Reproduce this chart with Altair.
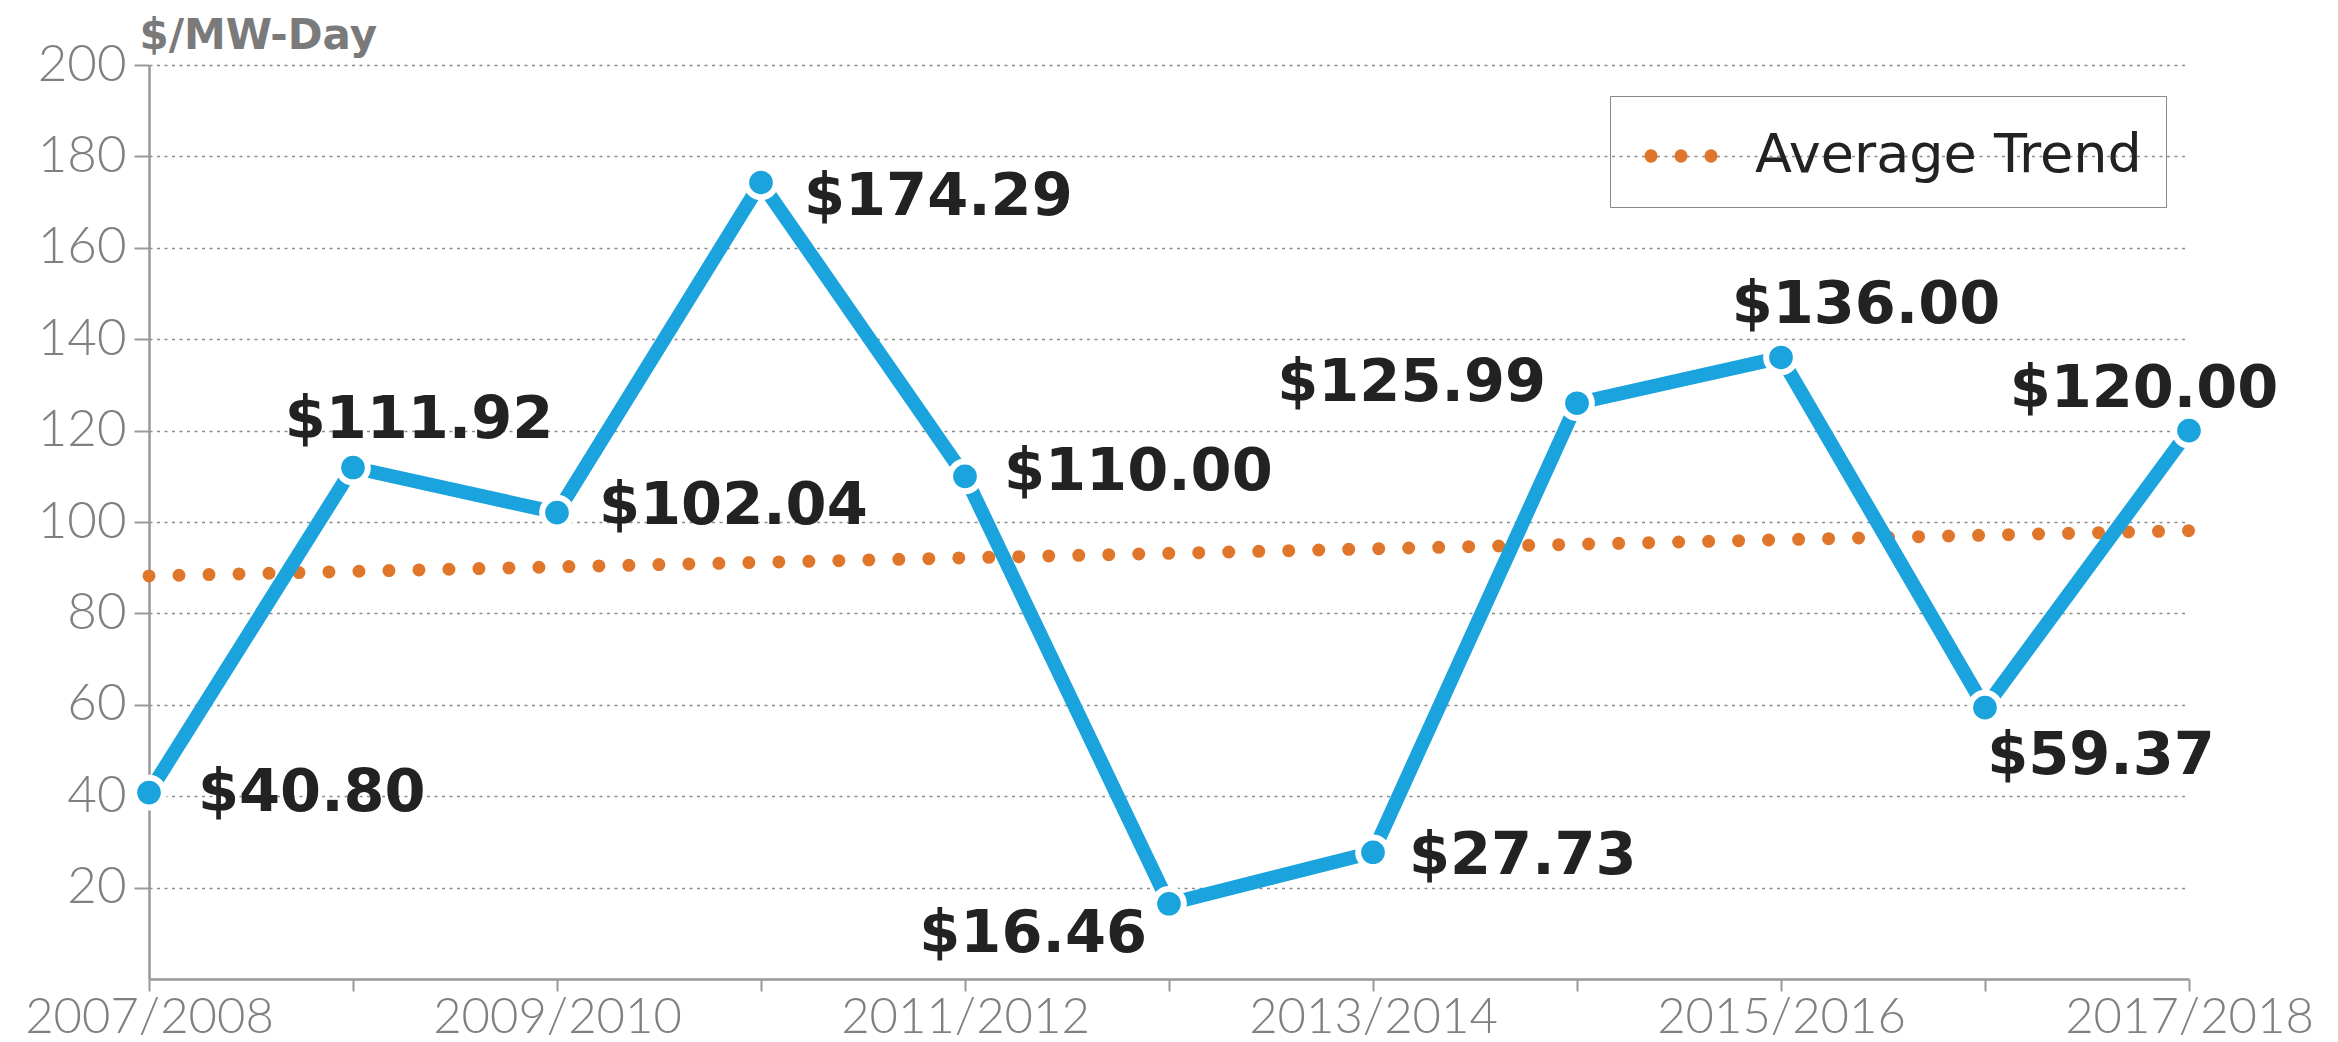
import altair as alt
import pandas as pd

# ---- data ----
categories = ["2007/2008", "2008/2009", "2009/2010", "2010/2011", "2011/2012", "2012/2013",
              "2013/2014", "2014/2015", "2015/2016", "2016/2017", "2017/2018"]
prices = [40.80, 111.92, 102.04, 174.29, 110.00, 16.46, 27.73, 125.99, 136.00, 59.37, 120.00]
trend_categories = ["2007/2008", "2017/2018"]
trend_values = [88.2, 98.1]
trend_series = ["Average Trend", "Average Trend"]
shown_x_labels = ["2007/2008", "2009/2010", "2011/2012", "2013/2014", "2015/2016", "2017/2018"]
y_ticks = [20, 40, 60, 80, 100, 120, 140, 160, 180, 200]

df = pd.DataFrame({"year": categories, "price": prices})
df_trend = pd.DataFrame({"year": trend_categories, "price": trend_values, "series": trend_series})

BLUE = "#1AA3DC"
ORANGE = "#E0762A"
GRAY = "#808080"

# label placement (align, dx, dy) for each point's value label
label_style = [
    ("left", 49, 0), ("center", 66, -48), ("left", 42, -7), ("left", 43, 15),
    ("left", 39, -4), ("right", -22, 30), ("left", 36, 4), ("right", -31, -20),
    ("center", 85, -52), ("center", 116, 48), ("center", -45, -42),
]

shown_js = "[" + ",".join("'" + s + "'" for s in shown_x_labels) + "]"

x_enc = alt.X(
    "year:N", sort=categories,
    scale=alt.Scale(type="point", padding=0),
    axis=alt.Axis(
        title=None, labelAngle=0, grid=False,
        labelExpr=f"indexof({shown_js}, datum.value) >= 0 ? datum.value : ''",
        labelFont="Lato", labelFontWeight=300, labelFontSize=49, labelColor=GRAY,
        labelPadding=2, labelLimit=600, labelBaseline="top",
        tickSize=12, tickWidth=2, tickColor="#999999",
        domainColor="#999999", domainWidth=2.5, labelOverlap=False,
    ),
)
y_enc = alt.Y(
    "price:Q",
    scale=alt.Scale(domain=[0, 200], nice=False, zero=True),
    axis=alt.Axis(
        values=y_ticks, title="$/MW-Day", titleAngle=0, titleAlign="left",
        titleBaseline="alphabetic", titleX=-10, titleY=-17,
        titleFont="DejaVu Sans", titleFontWeight="bold", titleFontSize=42, titleColor="#7a7a7a",
        labelFont="Lato", labelFontWeight=300, labelFontSize=51, labelColor=GRAY,
        labelPadding=8, tickSize=15, tickWidth=2, tickColor="#999999",
        domainColor="#999999", domainWidth=2.5,
        grid=True, gridDash=[3, 4.5], gridColor="#8c8c8c", gridWidth=1.5,
    ),
)

s = 36.0
d = 30.0 / s
r = 6.5 / s
def circ(cx):
    return (f"M {cx - r:.4f},0 a {r:.4f},{r:.4f} 0 1,0 {2*r:.4f},0 "
            f"a {r:.4f},{r:.4f} 0 1,0 {-2*r:.4f},0 Z ")
dots_path = circ(-d) + circ(0) + circ(d)

trend = alt.Chart(df_trend).mark_line(
    strokeWidth=13, strokeDash=[0, 30], strokeCap="round"
).encode(
    x=x_enc, y=y_enc,
    stroke=alt.Stroke(
        "series:N",
        scale=alt.Scale(domain=["Average Trend"], range=[ORANGE]),
        legend=alt.Legend(
            title=None, orient="none", legendX=1461, legendY=31,
            strokeColor="#888888", padding=24,
            symbolType=dots_path, symbolSize=(2 * s) ** 2,
            symbolFillColor=ORANGE, symbolStrokeColor=ORANGE, symbolStrokeWidth=0,
            symbolOffset=11, labelOffset=38, labelLimit=800,
            labelFont="DejaVu Sans", labelFontSize=54, labelColor="#222222",
        ),
    ),
)

line = alt.Chart(df).mark_line(color=BLUE, strokeWidth=14).encode(x=x_enc, y=y_enc)
points = alt.Chart(df).mark_point(
    filled=True, shape="circle", size=880, fill=BLUE, fillOpacity=1,
    stroke="white", strokeWidth=6, strokeOpacity=1, opacity=1
).encode(x=x_enc, y=y_enc)

labels = []
for cat, (align, dx, dy) in zip(categories, label_style):
    labels.append(
        alt.Chart(df).transform_filter(alt.datum.year == cat)
        .transform_calculate(label="'$' + format(datum.price, '.2f')")
        .mark_text(align=align, baseline="middle", dx=dx, dy=dy,
                   font="DejaVu Sans", fontWeight="bold", fontSize=59, color="#222222")
        .encode(x=x_enc, y=y_enc, text="label:N")
    )

chart = alt.layer(trend, line, points, *labels).properties(
    width=2040, height=914,
    autosize=alt.AutoSizeParams(type="none"),
    padding={"left": 141, "top": 57, "right": 140, "bottom": 62},
    background="white",
).configure_view(stroke=None)

chart.save("out.html", embed_options={"renderer": "svg", "actions": False})
